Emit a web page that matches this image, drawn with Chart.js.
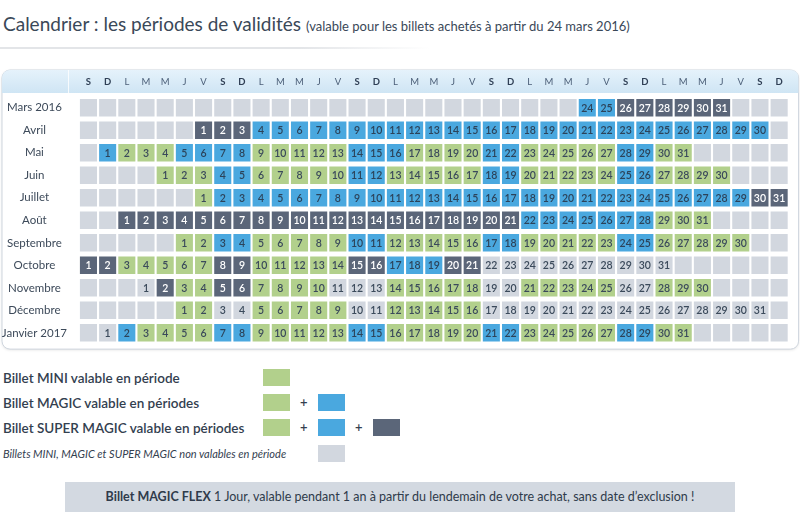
<!DOCTYPE html>
<html lang="fr">
<head>
<meta charset="utf-8">
<title>Calendrier : les périodes de validités</title>
<script src="https://cdn.jsdelivr.net/npm/chart.js@4.4.1/dist/chart.umd.min.js"></script>
<style>
  body { margin: 0; width: 800px; height: 530px; background: #fff; position: relative; overflow: hidden;
         font-family: Lato, "Noto Sans", sans-serif; color: #33404f; }
  .title { position: absolute; left: 3px; top: 12px; font-size: 19px; color: #3a4858; white-space: nowrap; }
  .title small { font-size: 13px; }
  .rule { position: absolute; left: 0; top: 47px; width: 430px; height: 2px;
          background: linear-gradient(to right, #e3e5e8 70%, rgba(227,229,232,0)); }
  #wrap { position: absolute; left: 0; top: 68px; width: 800px; height: 285px; }
  .leg { position: absolute; left: 3px; font-size: 13.5px; font-weight: 600; line-height: 18px; white-space: nowrap; }
  .leg.note { font-size: 11px; font-weight: 400; font-style: italic; }
  .sq { position: absolute; width: 27px; height: 17px; }
  .plus { position: absolute; font-size: 13px; font-weight: 600; line-height: 17px; }
  .flex { position: absolute; left: 65px; top: 482px; width: 670px; height: 30px; line-height: 30px;
          background: #d3d9e1; text-align: center; font-size: 12.5px; color: #2f3b4b; }
</style>
</head>
<body>
<div class="title">Calendrier : les périodes de validités <small>(valable pour les billets achetés à partir du 24 mars 2016)</small></div>
<div class="rule"></div>
<div id="wrap"><canvas id="calendar"></canvas></div>

<div class="leg" style="top:369px">Billet MINI valable en période</div>
<div class="leg" style="top:394px">Billet MAGIC valable en périodes</div>
<div class="leg" style="top:419px">Billet SUPER MAGIC valable en périodes</div>
<div class="leg note" style="top:445px">Billets MINI, MAGIC et SUPER MAGIC non valables en période</div>
<div id="legendSquares"></div>

<div class="flex"><b>Billet MAGIC FLEX</b> 1 Jour, valable pendant 1 an à partir du lendemain de votre achat, sans date d’exclusion !</div>

<script>
// Une ligne par mois
let months = ['Mars 2016', 'Avril', 'Mai', 'Juin', 'Juillet', 'Août', 'Septembre', 'Octobre', 'Novembre', 'Décembre', 'Janvier 2017'];
let monthYears = [2016, 2016, 2016, 2016, 2016, 2016, 2016, 2016, 2016, 2016, 2017];
let monthNumbers = [2, 3, 4, 5, 6, 7, 8, 9, 10, 11, 0]; // 0 = janvier

// Colonnes : la semaine commence le samedi
let weekLetters = ['S', 'D', 'L', 'M', 'M', 'J', 'V'];
let columnCount = 37;

// Période de chaque jour : G = MINI, B = MAGIC, D = SUPER MAGIC, N = non valable, - = pas affiché
let periods = [
  '-----------------------BBDDDDDD',
  'DDDBBBBBBBBBBBBBBBBBBBBBBBBBBB',
  'BGGGBBBBGGGGGBBBGGGGBBGGGGGBBGG',
  'GGGBBGGGGGBBGGGGGBBGGGGGBBGGGG',
  'GBBBBBBBBBBBBBBBBBBBBBBBBBBBBDD',
  'DDDDDDDDDDDDDDDDDDDDDBBBBBBBGGG',
  'GGBBGGGGGBBGGGGGBBGGGGGBBGGGGG',
  'DDGGGGGDDGGGGGDDBBBDDNNNNNNNNNN',
  'NDGGDDGGGGNNNGGGGGNNGGGGGNNGGG',
  'GGNNGGGGGNNGGGGGNNNNNNNNNNNNNNN',
  'NBGGGGBBGGGGGBBGGGGGBBGGGGGBBGG'
];

// Couleurs des périodes
let periodStyles = {
  G: { color: '#b2d08c', text: '#3b4a5b' },
  B: { color: '#4aa8df', text: '#2c435a' },
  D: { color: '#5b6679', text: '#ffffff' },
  N: { color: '#d2d7df', text: '#3b4a5b' },
  '-': { color: '#d2d7df', text: '#3b4a5b' }
};

// Build one dataset per period code
let cells = { '-': [], N: [], G: [], B: [], D: [] };
months.forEach((name, row) => {
  let offset = (new Date(monthYears[row], monthNumbers[row], 1).getDay() + 1) % 7;
  let codes = periods[row];
  for (let col = 0; col < columnCount; col++) {
    let day = col - offset + 1;
    let code = (day >= 1 && day <= codes.length) ? codes[day - 1] : '-';
    cells[code].push({ x: col, y: [row - 0.39, row + 0.39], day: code === '-' ? null : day });
  }
});

let datasets = Object.keys(cells).map(code => ({
  label: code,
  data: cells[code],
  backgroundColor: periodStyles[code].color,
  textColor: periodStyles[code].text,
  borderWidth: 0,
  borderSkipped: false,
  grouped: false,
  categoryPercentage: 1,
  barPercentage: 0.89
}));

// Cadre arrondi et bandeau des jours
let calendarFrame = {
  id: 'calendarFrame',
  beforeDraw(chart) {
    let ctx = chart.ctx;
    let a = chart.chartArea;
    let x0 = 2, y0 = 2, x1 = a.right, y1 = a.bottom + 5;
    ctx.save();
    ctx.shadowColor = 'rgba(0,0,0,0.12)';
    ctx.shadowBlur = 3;
    ctx.shadowOffsetY = 1;
    ctx.beginPath();
    ctx.roundRect(x0, y0, x1 - x0, y1 - y0, 8);
    ctx.fillStyle = '#fff';
    ctx.fill();
    ctx.shadowColor = 'transparent';
    ctx.strokeStyle = '#cfd6de';
    ctx.lineWidth = 1;
    ctx.stroke();
    ctx.clip();
    let g = ctx.createLinearGradient(0, y0, 0, a.top - 3.5);
    g.addColorStop(0, '#e5f2fb');
    g.addColorStop(1, '#cfe5f4');
    ctx.fillStyle = g;
    ctx.fillRect(x0, y0, x1 - x0, a.top - 3.5 - y0);
    ctx.fillStyle = 'rgba(255,255,255,0.8)';
    ctx.fillRect(a.left - 1, y0, 1, a.top - 3.5 - y0);
    ctx.restore();
  }
};

// Numéros des jours dans les cases
let dayNumbers = {
  id: 'dayNumbers',
  afterDatasetsDraw(chart) {
    let ctx = chart.ctx;
    ctx.save();
    ctx.font = '600 10.5px Lato, sans-serif';
    ctx.textAlign = 'center';
    ctx.textBaseline = 'middle';
    chart.data.datasets.forEach((ds, i) => {
      chart.getDatasetMeta(i).data.forEach((bar, j) => {
        let day = ds.data[j].day;
        if (!day) return;
        ctx.fillStyle = ds.textColor;
        ctx.fillText(day, bar.x, (bar.y + bar.base) / 2 + 0.5);
      });
    });
    ctx.restore();
  }
};

new Chart(document.getElementById('calendar'), {
  type: 'bar',
  data: { datasets: datasets },
  plugins: [calendarFrame, dayNumbers],
  options: {
    responsive: true,
    maintainAspectRatio: false,
    animation: false,
    events: [],
    layout: { padding: { top: 2, right: 1.4, bottom: 8.75, left: 0 } },
    plugins: { legend: { display: false }, tooltip: { enabled: false } },
    scales: {
      x: {
        type: 'linear',
        position: 'top',
        min: -0.5,
        max: columnCount - 0.5,
        grid: { display: false, drawTicks: false },
        border: { display: false },
        afterBuildTicks: scale => {
          scale.ticks = Array.from({ length: columnCount }, (_, i) => ({ value: i }));
        },
        afterFit: scale => { scale.height = 26.5; },
        ticks: {
          autoSkip: false,
          maxRotation: 0,
          padding: 9,
          callback: value => weekLetters[value % 7],
          color: ctx => (ctx.tick && ctx.tick.value % 7 < 2) ? '#2f3f55' : '#4d6079',
          font: ctx => ({
            family: 'Lato, sans-serif',
            size: 9.5,
            weight: (ctx.tick && ctx.tick.value % 7 < 2) ? 'bold' : 'normal'
          })
        }
      },
      y: {
        type: 'linear',
        reverse: true,
        min: -0.5,
        max: months.length - 0.5,
        grid: { display: false, drawTicks: false },
        border: { display: false },
        afterBuildTicks: scale => {
          scale.ticks = months.map((_, i) => ({ value: i }));
        },
        afterFit: scale => { scale.width = 69; },
        ticks: {
          autoSkip: false,
          crossAlign: 'center',
          padding: 2,
          callback: value => months[value],
          color: '#3d4a5a',
          font: { family: 'Lato, sans-serif', size: 11.5 }
        }
      }
    }
  }
});

// Carrés de la légende
let legendRows = [
  { top: 369, codes: ['G'] },
  { top: 394, codes: ['G', 'B'] },
  { top: 419, codes: ['G', 'B', 'D'] },
  { top: 445, codes: ['-', 'N'] }
];
let legendBox = document.getElementById('legendSquares');
legendRows.forEach(r => {
  r.codes.forEach((code, k) => {
    if (code === '-') return;
    legendBox.innerHTML += `<div class="sq" style="left:${263 + k * 55}px;top:${r.top}px;background:${periodStyles[code].color}"></div>`;
    if (k > 0 && r.codes[0] !== '-') {
      legendBox.innerHTML += `<div class="plus" style="left:${300 + (k - 1) * 55}px;top:${r.top}px">+</div>`;
    }
  });
});
</script>
</body>
</html>
